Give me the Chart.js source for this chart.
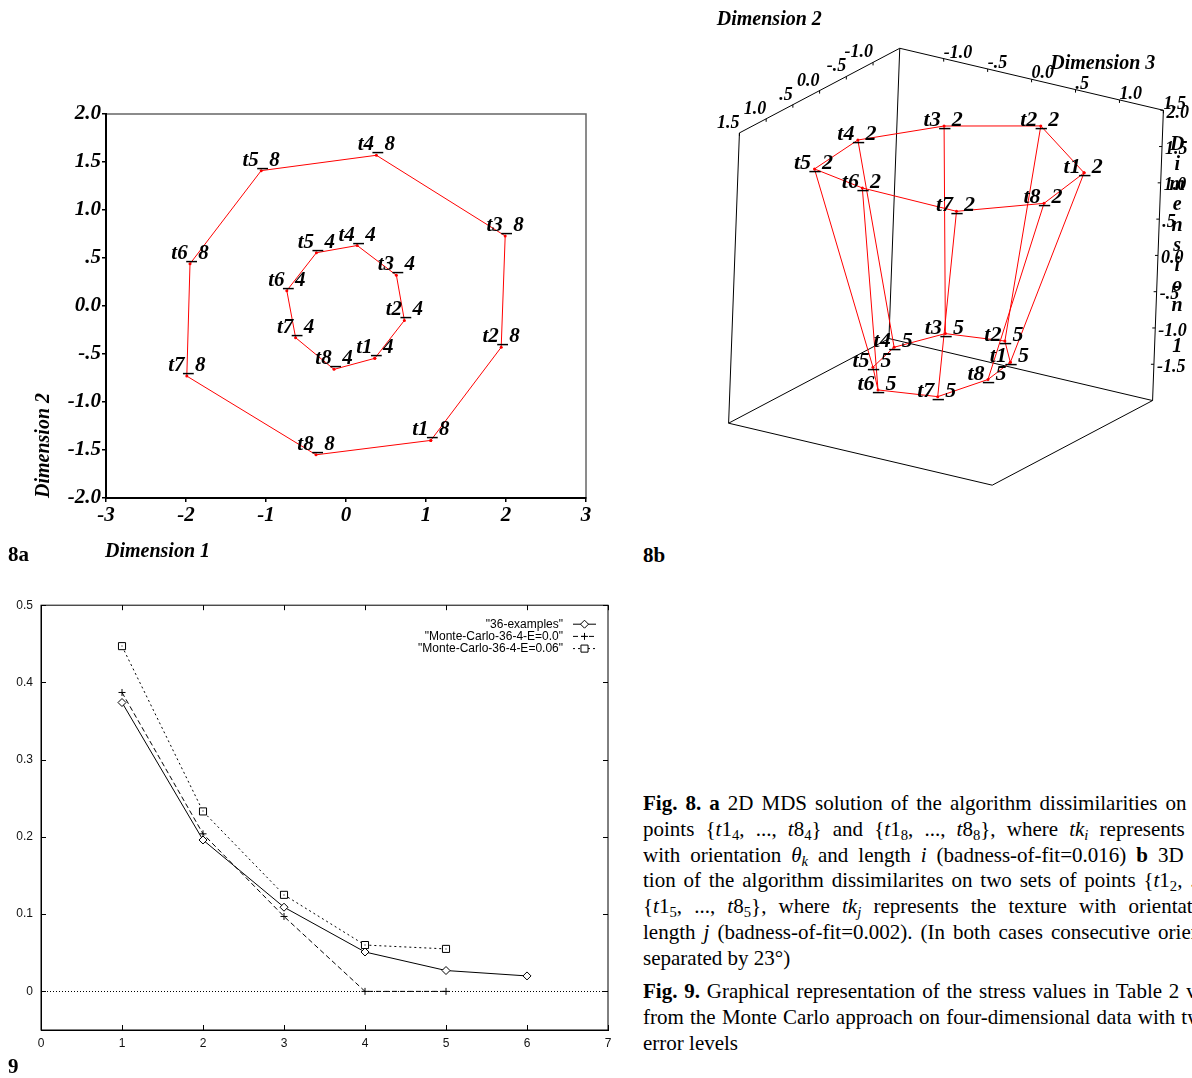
<!DOCTYPE html>
<html>
<head>
<meta charset="utf-8">
<script src="https://cdn.jsdelivr.net/npm/chart.js@4.4.0/dist/chart.umd.min.js"></script>
<style>
  html, body { margin: 0; padding: 0; background: #fff; width: 1192px; height: 1078px; overflow: hidden; }
  canvas { position: absolute; }
  .panel { position: absolute; font-family: "Liberation Serif", "Times New Roman", serif; font-weight: bold; font-size: 21px; color: #000; }
  .cap { position: absolute; left: 643px; width: 549px; overflow: hidden; font-family: "Liberation Serif", "Times New Roman", serif; font-size: 21px; line-height: 25.8px; color: #000; }
  .ln { width: 648px; white-space: nowrap; text-align: justify; text-align-last: justify; }
  .ln.last { text-align-last: left; }
  sub { font-size: 0.7em; line-height: 0; vertical-align: -0.25em; }
</style>
</head>
<body>
<canvas id="c8a" width="620" height="480" style="left:0;top:90px"></canvas>
<canvas id="c8b" width="492" height="500" style="left:700px;top:0"></canvas>
<canvas id="c9" width="630" height="470" style="left:0;top:590px"></canvas>

<div class="panel" style="left:8px;top:542px">8a</div>
<div class="panel" style="left:643px;top:543px">8b</div>
<div class="panel" style="left:8px;top:1054px">9</div>

<div class="cap" style="top:791px">
  <div class="ln"><b>Fig. 8.</b> <b>a</b> 2D MDS solution of the algorithm dissimilarities on two sets of</div>
  <div class="ln">points {<i>t</i>1<sub>4</sub>, ..., <i>t</i>8<sub>4</sub>} and {<i>t</i>1<sub>8</sub>, ..., <i>t</i>8<sub>8</sub>}, where <i>tk<sub>i</sub></i> represents the texture</div>
  <div class="ln">with orientation <i>θ<sub>k</sub></i> and length <i>i</i> (badness-of-fit=0.016) <b>b</b> 3D MDS solu-</div>
  <div class="ln">tion of the algorithm dissimilarites on two sets of points {<i>t</i>1<sub>2</sub>, ..., <i>t</i>8<sub>2</sub>} and</div>
  <div class="ln">{<i>t</i>1<sub>5</sub>, ..., <i>t</i>8<sub>5</sub>}, where <i>tk<sub>j</sub></i> represents the texture with orientation <i>θ<sub>k</sub></i> and</div>
  <div class="ln">length <i>j</i> (badness-of-fit=0.002). (In both cases consecutive orientations are</div>
  <div class="ln last">separated by 23°)</div>
</div>
<div class="cap" style="top:979px">
  <div class="ln"><b>Fig. 9.</b> Graphical representation of the stress values in Table 2 versus those</div>
  <div class="ln">from the Monte Carlo approach on four-dimensional data with two different</div>
  <div class="ln last">error levels</div>
</div>

<script>
const SERIF = '"Liberation Serif", "Times New Roman", serif';
const SANS = '"Liberation Sans", Arial, Helvetica, sans-serif';

// ---------- Fig. 8a: 2D MDS solution (texture t1..t8, lengths 4 and 8) ----------
const textureNames = ['t1', 't2', 't3', 't4', 't5', 't6', 't7', 't8'];
const len4Dim1 = [0.36, 0.73, 0.63, 0.14, -0.37, -0.74, -0.63, -0.15];
const len4Dim2 = [-0.545, -0.15, 0.32, 0.63, 0.555, 0.16, -0.33, -0.66];
const len8Dim1 = [1.06, 1.94, 1.99, 0.38, -1.06, -1.95, -1.99, -0.375];
const len8Dim2 = [-1.40, -0.43, 0.73, 1.57, 1.41, 0.44, -0.73, -1.55];
const ticks8aX = [-3, -2, -1, 0, 1, 2, 3];
const ticks8aY = [-2, -1.5, -1, -0.5, 0, 0.5, 1, 1.5, 2];

// ---------- Fig. 8b: 3D MDS solution (lengths 2 and 5) ----------
const len2Dim1 = [1.37, 1.37, 1.37, 1.37, 1.37, 1.37, 1.37, 1.37];
const len2Dim2 = [-0.64, -1.54, -0.98, -0.14, 0.82, 1.01, 1.04, 0.34];
const len2Dim3 = [1.14, 0.10, -0.66, -1.13, -1.04, -0.38, 0.71, 1.28];
const len5Dim1 = [-1.35, -1.35, -1.35, -1.35, -1.35, -1.35, -1.35, -1.35];
const len5Dim2 = [-0.45, -0.94, -0.78, -0.15, 0.46, 0.99, 0.81, 0.10];
const len5Dim3 = [0.50, 0.14, -0.44, -0.64, -0.51, -0.13, 0.44, 0.58];
const dim1Range = [-2, 2];
const dim2Range = [-1.5, 1.5];
const dim3Range = [-1.5, 1.5];
const dim1Ticks = [2, 1.5, 1, 0.5, 0, -0.5, -1, -1.5];
const dim2Ticks = [1.5, 1, 0.5, 0, -0.5, -1];
const dim3Ticks = [-1, -0.5, 0, 0.5, 1, 1.5];

// ---------- Fig. 9: stress values ----------
const dims9 = [1, 2, 3, 4, 5, 6];
const stress36 = [0.374, 0.196, 0.109, 0.051, 0.027, 0.020];
const stressMC00 = [0.387, 0.204, 0.097, 0.0, 0.0];
const stressMC06 = [0.447, 0.233, 0.125, 0.060, 0.055];
const series9 = ['"36-examples"', '"Monte-Carlo-36-4-E=0.0"', '"Monte-Carlo-36-4-E=0.06"'];
const ticks9X = [0, 1, 2, 3, 4, 5, 6, 7];
const ticks9Y = [0, 0.1, 0.2, 0.3, 0.4, 0.5];

// SPSS style numbers: 1.5, .5, 0.0, -.5
function spssNum(v) {
  if (v === 0) return '0.0';
  if (Math.abs(v) < 1) return (v < 0 ? '-' : '') + '.' + Math.round(Math.abs(v) * 10);
  return v.toFixed(1);
}
const fixTicks = vals => scale => { scale.ticks = vals.map(v => ({ value: v })); };
const ring2d = (a, b) => a.concat(a[0]).map((v, i) => ({ x: v, y: b[i % b.length] }));

// oblique parallel projection of the 3D box (screen units = page pixels)
const VIEW = { origin: [888, 340], e1: [2.75, -73.75], e2: [-54.33, 28.67], e3: [89.33, 21.0] };
function project(d1, d2, d3) {
  const a = d1 - dim1Range[0], b = d2 - dim2Range[0], c = d3 - dim3Range[0];
  return {
    x: VIEW.origin[0] + a * VIEW.e1[0] + b * VIEW.e2[0] + c * VIEW.e3[0],
    y: VIEW.origin[1] + a * VIEW.e1[1] + b * VIEW.e2[1] + c * VIEW.e3[1]
  };
}
const ring3d = (d1, d2, d3) => d1.concat(d1[0]).map((v, i) => project(v, d2[i % 8], d3[i % 8]));

const redLine = {
  borderColor: '#ff0000', borderWidth: 1, showLine: true, tension: 0,
  pointRadius: 1.5, pointBackgroundColor: '#ff0000', pointBorderWidth: 0
};

// grey/black frame around the plot area
const framePlugin = {
  id: 'frame',
  beforeDraw(chart, args, opts) {
    const { ctx, chartArea: a } = chart;
    ctx.save();
    ctx.strokeStyle = opts.color;
    ctx.lineWidth = opts.width;
    ctx.strokeRect(a.left, a.top, a.right - a.left, a.bottom - a.top);
    ctx.restore();
  }
};

// names written next to each point
const pointNamesPlugin = {
  id: 'pointNames',
  afterDatasetsDraw(chart, args, opts) {
    const ctx = chart.ctx;
    ctx.save();
    ctx.font = opts.font;
    ctx.fillStyle = '#000';
    ctx.textAlign = 'center';
    ctx.textBaseline = 'alphabetic';
    chart.data.datasets.forEach((ds, i) => {
      if (!ds.pointLabels) return;
      const meta = chart.getDatasetMeta(i);
      ds.pointLabels.forEach((txt, j) => {
        const el = meta.data[j];
        ctx.fillText(txt, el.x + opts.dx, el.y + opts.dy);
      });
    });
    ctx.restore();
  }
};

// ---------- Fig. 8a ----------
const titles8a = {
  id: 'titles8a',
  afterDraw(chart) {
    const { ctx, chartArea: a } = chart;
    ctx.save();
    ctx.font = 'italic bold 20px ' + SERIF;
    ctx.fillStyle = '#000';
    ctx.textAlign = 'left';
    ctx.fillText('Dimension 1', a.left - 1, a.bottom + 59);
    ctx.translate(49, a.bottom);
    ctx.rotate(-Math.PI / 2);
    ctx.fillText('Dimension 2', 0, 0);
    ctx.restore();
  }
};
const tickFont8a = { family: SERIF, size: 21, weight: 'bold', style: 'italic' };

new Chart(document.getElementById('c8a'), {
  type: 'scatter',
  data: {
    datasets: [
      Object.assign({ data: ring2d(len8Dim1, len8Dim2), pointLabels: textureNames.map(n => n + '_8') }, redLine),
      Object.assign({ data: ring2d(len4Dim1, len4Dim2), pointLabels: textureNames.map(n => n + '_4') }, redLine)
    ]
  },
  options: {
    responsive: false, animation: false, events: [], devicePixelRatio: 1,
    layout: { padding: { top: 24, right: 34, left: 0, bottom: 0 } },
    plugins: {
      legend: { display: false }, tooltip: { enabled: false },
      frame: { color: '#666', width: 1.5 },
      pointNames: { font: 'italic bold 21px ' + SERIF, dx: 0, dy: -5 }
    },
    scales: {
      x: {
        type: 'linear', min: -3, max: 3,
        afterBuildTicks: fixTicks(ticks8aX),
        afterFit: s => { s.height = 72; },
        ticks: { font: tickFont8a, color: '#000', padding: 1, autoSkip: false, maxRotation: 0, callback: v => String(v) },
        grid: { drawOnChartArea: false, drawTicks: true, tickLength: 4, color: '#000', lineWidth: 1.5 },
        border: { color: '#000', width: 2 }
      },
      y: {
        type: 'linear', min: -2, max: 2,
        afterBuildTicks: fixTicks(ticks8aY),
        afterFit: s => { s.width = 106; },
        ticks: { font: tickFont8a, color: '#000', padding: 1, autoSkip: false, callback: v => spssNum(v) },
        grid: { drawOnChartArea: false, drawTicks: true, tickLength: 4, color: '#000', lineWidth: 1.5 },
        border: { color: '#000', width: 2 }
      }
    }
  },
  plugins: [framePlugin, pointNamesPlugin, titles8a]
});

// ---------- Fig. 8b ----------
const box3d = {
  id: 'box3d',
  beforeDatasetsDraw(chart) {
    const { ctx, scales: { x, y } } = chart;
    const px = (d1, d2, d3) => { const p = project(d1, d2, d3); return [x.getPixelForValue(p.x), y.getPixelForValue(p.y)]; };
    const [lo1, hi1] = dim1Range, [lo2, hi2] = dim2Range, [lo3, hi3] = dim3Range;
    const edges = [
      [[lo1, lo2, lo3], [lo1, hi2, lo3]], [[lo1, lo2, lo3], [lo1, lo2, hi3]],
      [[lo1, hi2, lo3], [lo1, hi2, hi3]], [[lo1, lo2, hi3], [lo1, hi2, hi3]],
      [[lo1, lo2, lo3], [hi1, lo2, lo3]], [[lo1, hi2, lo3], [hi1, hi2, lo3]],
      [[lo1, lo2, hi3], [hi1, lo2, hi3]],
      [[hi1, lo2, lo3], [hi1, hi2, lo3]], [[hi1, lo2, lo3], [hi1, lo2, hi3]]
    ];
    ctx.save();
    ctx.strokeStyle = '#000';
    ctx.lineWidth = 1;
    ctx.beginPath();
    edges.forEach(([p, q]) => {
      const a = px(...p), b = px(...q);
      ctx.moveTo(a[0], a[1]); ctx.lineTo(b[0], b[1]);
    });
    dim2Ticks.forEach(v => { const t = px(hi1, v, lo3); ctx.moveTo(t[0], t[1]); ctx.lineTo(t[0], t[1] + 3); });
    dim3Ticks.forEach(v => { const t = px(hi1, lo2, v); ctx.moveTo(t[0], t[1]); ctx.lineTo(t[0], t[1] + 3); });
    dim1Ticks.forEach(v => { const t = px(v, lo2, hi3); ctx.moveTo(t[0], t[1]); ctx.lineTo(t[0] - 3, t[1]); });
    ctx.stroke();
    ctx.restore();
  },
  afterDatasetsDraw(chart) {
    const { ctx, scales: { x, y } } = chart;
    const px = (d1, d2, d3) => { const p = project(d1, d2, d3); return [x.getPixelForValue(p.x), y.getPixelForValue(p.y)]; };
    const [lo1, hi1] = dim1Range, [lo2] = dim2Range, [lo3, hi3] = dim3Range;
    ctx.save();
    ctx.fillStyle = '#000';
    ctx.font = 'italic bold 18px ' + SERIF;
    ctx.textBaseline = 'alphabetic';
    ctx.textAlign = 'right';
    dim2Ticks.forEach(v => { const t = px(hi1, v, lo3); ctx.fillText(spssNum(v), t[0], t[1] - 5); });
    ctx.textAlign = 'left';
    dim3Ticks.forEach(v => { const t = px(hi1, lo2, v); ctx.fillText(spssNum(v), t[0], t[1] - 1); });
    ctx.textBaseline = 'middle';
    dim1Ticks.forEach(v => { const t = px(v, lo2, hi3); ctx.fillText(spssNum(v), t[0] + 3, t[1] + 3); });
    // axis titles
    ctx.font = 'italic bold 20px ' + SERIF;
    ctx.textBaseline = 'alphabetic';
    ctx.fillText('Dimension 2', x.getPixelForValue(713), y.getPixelForValue(21));
    ctx.fillText('Dimension 3', x.getPixelForValue(1052), y.getPixelForValue(66));
    ctx.textAlign = 'center';
    ctx.textBaseline = 'middle';
    'Dimension 1'.split('').forEach((ch, i) => {
      if (ch !== ' ') ctx.fillText(ch, x.getPixelForValue(1181), y.getPixelForValue(143 + i * 20.5));
    });
    ctx.restore();
  }
};

const datasets8b = [
  Object.assign({ data: ring3d(len2Dim1, len2Dim2, len2Dim3), pointLabels: textureNames.map(n => n + '_2') }, redLine),
  Object.assign({ data: ring3d(len5Dim1, len5Dim2, len5Dim3), pointLabels: textureNames.map(n => n + '_5') }, redLine)
];
textureNames.forEach((n, k) => {
  datasets8b.push(Object.assign({}, redLine, {
    pointRadius: 0,
    data: [project(len2Dim1[k], len2Dim2[k], len2Dim3[k]), project(len5Dim1[k], len5Dim2[k], len5Dim3[k])]
  }));
});

new Chart(document.getElementById('c8b'), {
  type: 'scatter',
  data: { datasets: datasets8b },
  options: {
    responsive: false, animation: false, events: [], devicePixelRatio: 1,
    layout: { padding: 0 },
    plugins: {
      legend: { display: false }, tooltip: { enabled: false },
      pointNames: { font: 'italic bold 22px ' + SERIF, dx: -1, dy: 0 }
    },
    scales: {
      x: { type: 'linear', display: false, min: 700, max: 1192 },
      y: { type: 'linear', display: false, min: 0, max: 500, reverse: true }
    }
  },
  plugins: [box3d, pointNamesPlugin]
});

// ---------- Fig. 9 ----------
const gnuplotDecor = {
  id: 'gnuplotDecor',
  beforeDatasetsDraw(chart) {
    const { ctx, chartArea: a, scales: { x, y } } = chart;
    ctx.save();
    ctx.strokeStyle = '#000';
    ctx.lineWidth = 1;
    ctx.beginPath();
    ticks9X.forEach(v => {
      const p = Math.round(x.getPixelForValue(v)) + 0.5;
      ctx.moveTo(p, a.bottom); ctx.lineTo(p, a.bottom - 5);
      ctx.moveTo(p, a.top); ctx.lineTo(p, a.top + 5);
    });
    ticks9Y.forEach(v => {
      const p = Math.round(y.getPixelForValue(v)) + 0.5;
      ctx.moveTo(a.left, p); ctx.lineTo(a.left + 5, p);
      ctx.moveTo(a.right, p); ctx.lineTo(a.right - 5, p);
    });
    ctx.stroke();
    // zero axis
    const z = Math.round(y.getPixelForValue(0)) + 0.5;
    ctx.setLineDash([1, 2]);
    ctx.beginPath();
    ctx.moveTo(a.left, z); ctx.lineTo(a.right, z);
    ctx.stroke();
    ctx.restore();
  },
  afterDatasetsDraw(chart) {
    const { ctx, chartArea: a, scales: { x, y } } = chart;
    ctx.save();
    // centre dot inside the square markers
    ctx.fillStyle = '#000';
    chart.getDatasetMeta(2).data.forEach(el => ctx.fillRect(Math.round(el.x) - 0.5, Math.round(el.y) - 0.5, 1, 1));
    ctx.font = '12px ' + SANS;
    ctx.textAlign = 'right';
    ctx.textBaseline = 'middle';
    chart.data.datasets.forEach((ds, i) => {
      const yy = a.top + 19 + i * 12.2;
      ctx.fillStyle = '#000';
      ctx.fillText(ds.label, a.right - 45, yy);
      ctx.strokeStyle = '#000';
      ctx.lineWidth = 1;
      ctx.setLineDash(ds.borderDash || []);
      ctx.beginPath();
      ctx.moveTo(a.right - 35, yy); ctx.lineTo(a.right - 12, yy);
      ctx.stroke();
      ctx.setLineDash([]);
      ctx.fillStyle = '#fff';
      Chart.helpers.drawPoint(ctx, { pointStyle: ds.pointStyle, radius: ds.pointRadius, rotation: 0, borderWidth: 1 }, a.right - 23.5, yy);
    });
    ctx.restore();
  }
};
const mark = { pointBackgroundColor: '#fff', pointBorderColor: '#000', pointBorderWidth: 1, borderColor: '#000', borderWidth: 1, showLine: true, tension: 0 };

new Chart(document.getElementById('c9'), {
  type: 'scatter',
  data: {
    datasets: [
      Object.assign({ label: series9[0], data: dims9.map((d, i) => ({ x: d, y: stress36[i] })), pointStyle: 'rectRot', pointRadius: 4, borderDash: [] }, mark),
      Object.assign({ label: series9[1], data: dims9.slice(0, stressMC00.length).map((d, i) => ({ x: d, y: stressMC00[i] })), pointStyle: 'cross', pointRadius: 3.5, borderDash: [5, 3] }, mark),
      Object.assign({ label: series9[2], data: dims9.slice(0, stressMC06.length).map((d, i) => ({ x: d, y: stressMC06[i] })), pointStyle: 'rect', pointRadius: 5, borderDash: [2, 3] }, mark)
    ]
  },
  options: {
    responsive: false, animation: false, events: [], devicePixelRatio: 1,
    layout: { padding: { top: 14, right: 22, left: 0, bottom: 0 } },
    plugins: {
      legend: { display: false }, tooltip: { enabled: false },
      frame: { color: '#000', width: 1 }
    },
    scales: {
      x: {
        type: 'linear', min: 0, max: 7,
        afterBuildTicks: fixTicks(ticks9X),
        afterFit: s => { s.height = 30; },
        ticks: { font: { family: SANS, size: 12 }, color: '#111', padding: 6, autoSkip: false, maxRotation: 0, callback: v => String(v) },
        grid: { display: false, drawTicks: false },
        border: { color: '#000', width: 1 }
      },
      y: {
        type: 'linear', min: -0.05, max: 0.5,
        afterBuildTicks: fixTicks(ticks9Y),
        afterFit: s => { s.width = 41; },
        ticks: { font: { family: SANS, size: 12 }, color: '#111', padding: 8, autoSkip: false, callback: v => String(+v.toFixed(2)) },
        grid: { display: false, drawTicks: false },
        border: { color: '#000', width: 1 }
      }
    }
  },
  plugins: [framePlugin, gnuplotDecor]
});
</script>
</body>
</html>
